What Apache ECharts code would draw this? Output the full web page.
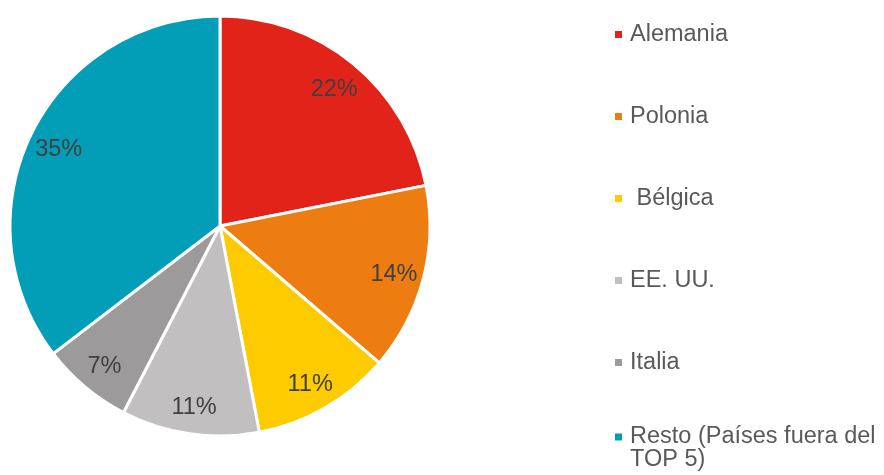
<!DOCTYPE html>
<html>
<head>
<meta charset="utf-8">
<script src="https://cdn.jsdelivr.net/npm/echarts@6/dist/echarts.min.js"></script>
<style>
html, body { margin: 0; padding: 0; background: #fff; }
#contain { width: 884px; height: 475px; }
</style>
</head>
<body>
<div id="contain"></div>
<script>
// paises y cuota (%)
const paises = ['Alemania', 'Polonia', ' Bélgica', 'EE. UU.', 'Italia', 'Resto (Países fuera del TOP 5)']
const cuotas = [21.9, 14.4, 10.7, 10.6, 7.0, 35.4]
const colores = ['#E2231A', '#EE7D11', '#FDCB00', '#C1BFBF', '#9D9A9C', '#029DB6']

const chart = echarts.init(document.getElementById('contain'))
const datos = paises.map((p, i) => ({ name: p, value: cuotas[i], itemStyle: { color: colores[i] } }))
const R = 210
const centro = [220, 226]
const font = 'Liberation Sans, Arial, sans-serif'
const textoLeyenda = { fontFamily: font, fontSize: 23.5, lineHeight: 23, color: '#595959', padding: [0, 0, 0, 3] }

const option = {
  animation: false,
  legend: [
    {
      orient: 'vertical',
      left: 615,
      top: 22.5,
      padding: 0,
      itemGap: 58,
      itemWidth: 7,
      itemHeight: 7,
      icon: 'rect',
      itemStyle: { borderWidth: 0 },
      data: paises.slice(0, 5),
      textStyle: textoLeyenda
    },
    {
      // el icono va a la altura de la primera linea
      orient: 'vertical',
      left: 615,
      top: 402,
      padding: 0,
      itemWidth: 7,
      itemHeight: 7,
      icon: 'rect',
      itemStyle: { borderWidth: 0 },
      data: paises.slice(5),
      formatter: () => '\nResto (Países fuera del\nTOP 5)',
      textStyle: textoLeyenda
    }
  ],
  series: [
    {
      type: 'pie',
      center: centro,
      radius: R,
      startAngle: 90,
      clockwise: true,
      label: { show: false },
      labelLine: { show: false },
      itemStyle: { borderColor: '#fff', borderWidth: 3 },
      emphasis: { disabled: true },
      data: datos
    },
    {
      // solo etiquetas, mas cerca del borde
      type: 'pie',
      center: centro,
      radius: [R * 0.685, R],
      startAngle: 90,
      clockwise: true,
      silent: true,
      itemStyle: { color: 'rgba(0,0,0,0)', borderWidth: 0 },
      label: {
        show: true,
        position: 'inside',
        offset: [0, 3],
        formatter: p => Math.round(p.value) + '%',
        fontFamily: font,
        fontSize: 23.5,
        color: '#404040'
      },
      labelLine: { show: false },
      emphasis: { disabled: true },
      data: paises.map((p, i) => ({ name: p, value: cuotas[i] }))
    }
  ]
}

option && chart.setOption(option)
</script>
</body>
</html>
